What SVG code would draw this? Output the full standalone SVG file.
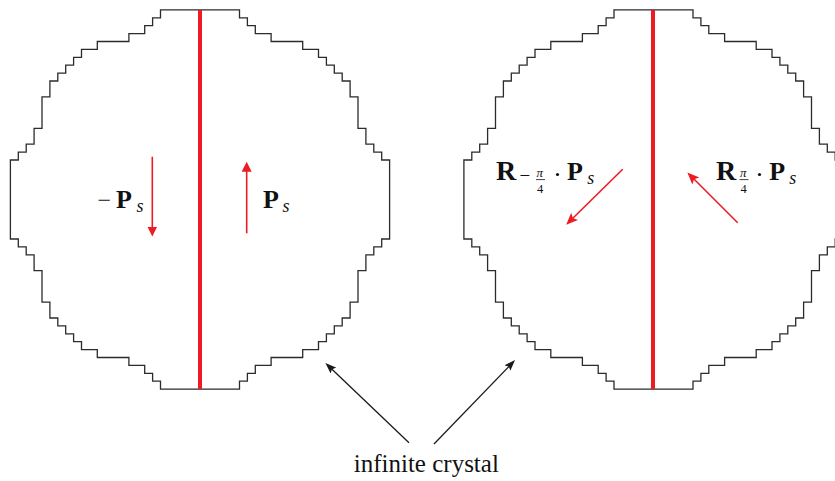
<svg xmlns="http://www.w3.org/2000/svg" width="835" height="481" viewBox="0 0 835 481">
<style>
.outline{fill:none;stroke:#2b2b2b;stroke-width:1.3;vector-effect:non-scaling-stroke;stroke-linejoin:miter}
.wall{stroke:#ed1c24;stroke-width:4;fill:none}
.pol{stroke:#ed1c24;stroke-width:1.6;fill:none}
.conn{stroke:#1a1a1a;stroke-width:1.3;fill:none}
.m{font-family:"Liberation Serif","Times New Roman","DejaVu Serif",serif;fill:#111}
.b{font-weight:bold;font-size:26px}
.rb{font-weight:bold;font-size:28px}
.i{font-style:italic;font-size:18px}
.lbl{font-family:"Liberation Serif","Times New Roman","DejaVu Serif",serif;font-size:25px;fill:#111}
</style>
<defs>
<path id="crystal" class="outline" d="M5,-24 v1 h1 v1 h1 v1 h2 v1 h4 v1 h2 v1 h1 v1 h1 v1 h1 v1 h1 v2 h1 v4 h1 v2 h1 v1 h1 v1 h1 V5 h-1 v1 h-1 v1 h-1 v2 h-1 v4 h-1 v2 h-1 v1 h-1 v1 h-1 v1 h-1 v1 h-2 v1 h-4 v1 h-2 v1 h-1 v1 h-1 v1 H-5 v-1 h-1 v-1 h-1 v-1 h-2 v-1 h-4 v-1 h-2 v-1 h-1 v-1 h-1 v-1 h-1 v-1 h-1 v-2 h-1 v-4 h-1 v-2 h-1 v-1 h-1 v-1 h-1 V-5 h1 v-1 h1 v-1 h1 v-2 h1 v-4 h1 v-2 h1 v-1 h1 v-1 h1 v-1 h1 v-1 h2 v-1 h4 v-1 h2 v-1 h1 v-1 h1 v-1 Z"/>
<marker id="redhead" markerUnits="userSpaceOnUse" markerWidth="11" markerHeight="11" refX="6" refY="5" orient="auto">
<path d="M0,0 L10,5 L0,10 Z" fill="#ed1c24"/>
</marker>
<marker id="redhead2" markerUnits="userSpaceOnUse" markerWidth="13" markerHeight="11" refX="8" refY="5" orient="auto">
<path d="M0,0 L12,5 L0,10 L2.5,5 Z" fill="#ed1c24"/>
</marker>
<marker id="blackhead" markerUnits="userSpaceOnUse" markerWidth="12" markerHeight="9" refX="7" refY="4" orient="auto">
<path d="M0,0 L11,4 L0,8 L2,4 Z" fill="#1a1a1a"/>
</marker>
</defs>

<g id="crystal-left">
<use href="#crystal" transform="translate(200,199.5) scale(7.9)"/>
<line class="wall" x1="200" y1="10" x2="200" y2="389"/>
<line class="pol" x1="152.3" y1="156.7" x2="152.3" y2="232.5" marker-end="url(#redhead)"/>
<line class="pol" x1="246.7" y1="233.3" x2="246.7" y2="165.7" marker-end="url(#redhead)"/>
<text class="m" x="97.5" y="208" font-size="24">−</text>
<text class="m b" x="116" y="207.5">P</text>
<text class="m i" x="136.5" y="211.5">s</text>
<text class="m b" x="263" y="207.5">P</text>
<text class="m i" x="282.5" y="211.5">s</text>
</g>

<g id="crystal-right">
<use href="#crystal" transform="translate(653.5,199.5) scale(7.9)"/>
<line class="wall" x1="653" y1="10" x2="653" y2="389"/>
<line class="pol" x1="622.7" y1="169.3" x2="569" y2="222" marker-end="url(#redhead2)"/>
<line class="pol" x1="737.7" y1="222.7" x2="690.2" y2="175.3" marker-end="url(#redhead2)"/>
<text class="m rb" x="496" y="180">R</text>
<text class="m" x="519.5" y="182" font-size="19">−</text>
<text class="m" x="536.5" y="177" font-size="13" font-style="italic">π</text>
<line x1="536" y1="179.6" x2="545" y2="179.6" stroke="#111" stroke-width="0.8"/>
<text class="m" x="537" y="193" font-size="12.5">4</text>
<circle cx="557.5" cy="174.5" r="1.6" fill="#111"/>
<text class="m b" x="567" y="180">P</text>
<text class="m i" x="587.3" y="183.5">s</text>
<text class="m rb" x="716" y="180">R</text>
<text class="m" x="740" y="177" font-size="13" font-style="italic">π</text>
<line x1="739.5" y1="179.6" x2="748.5" y2="179.6" stroke="#111" stroke-width="0.8"/>
<text class="m" x="740.5" y="193" font-size="12.5">4</text>
<circle cx="759.5" cy="174.5" r="1.6" fill="#111"/>
<text class="m b" x="769.3" y="180">P</text>
<text class="m i" x="789.3" y="183.5">s</text>
</g>

<g id="label-infinite-crystal">
<text class="lbl" x="426.3" y="471.5" text-anchor="middle">infinite crystal</text>
</g>

<g id="connectors">
<line class="conn" x1="409" y1="442.7" x2="328.3" y2="365.7" marker-end="url(#blackhead)"/>
<line class="conn" x1="434" y1="444" x2="512.3" y2="363" marker-end="url(#blackhead)"/>
</g>
</svg>
